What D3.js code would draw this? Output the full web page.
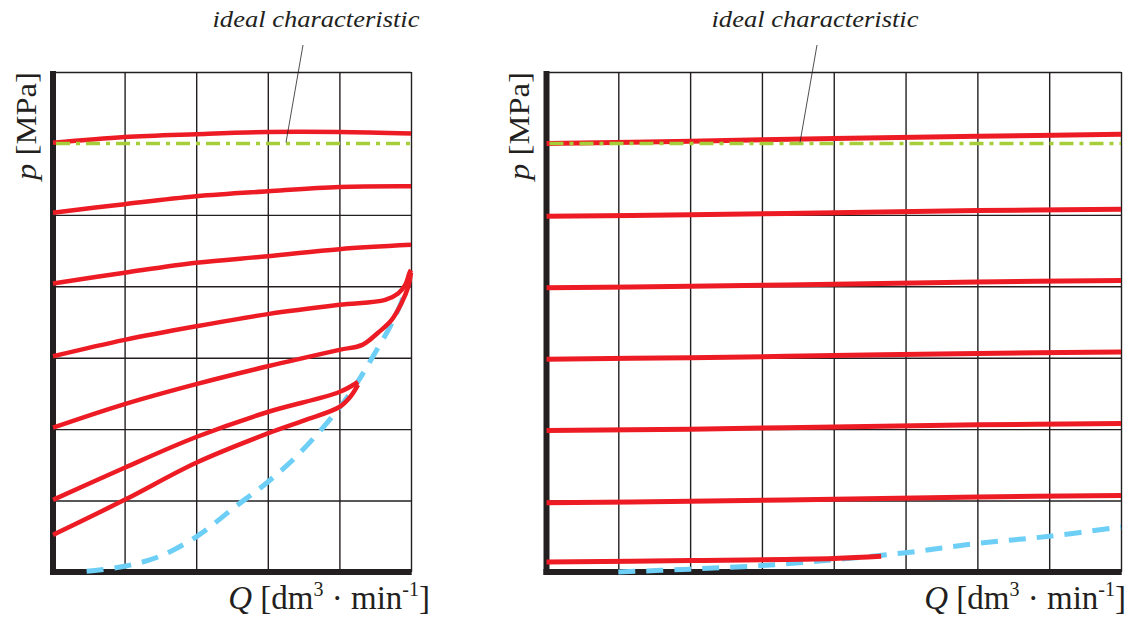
<!DOCTYPE html>
<html><head><meta charset="utf-8">
<script src="https://cdn.jsdelivr.net/npm/d3@7"></script>
<style>
html,body{margin:0;padding:0;background:#fff;}
svg{display:block;}
text{fill:#231f20;}
</style></head>
<body>
<svg id="chart" width="1135" height="623"></svg>
<script>
// ---- data (grid units: Q in columns, p in rows) ----
const leftQTicks = [0,1,2,3,4,5];
const rightQTicks = [0,1,2,3,4,5,6,7,8];
const pTicks = [0,1,2,3,4,5,7];
const idealP = 6.0;

// left panel: red characteristics [Q, p]
const leftCurve1 = [[0,6.01],[1,6.09],[2,6.13],[3,6.16],[4,6.16],[5,6.14]];
const leftCurve2 = [[0,5.03],[1,5.15],[2,5.26],[3,5.33],[4,5.39],[5,5.40]];
const leftCurve3 = [[0,4.04],[1,4.19],[2,4.33],[3,4.42],[4,4.52],[5,4.58]];
const leftCurve4 = [[0,3.02],[1,3.25],[2,3.44],[3,3.61],[4,3.74],[4.64,3.81],[4.82,3.90],[4.92,4.02],[4.98,4.19],[5.0,4.23]];
const leftCurve5 = [[0,2.02],[1,2.35],[2,2.63],[3,2.88],[4,3.11],[4.32,3.18],[4.54,3.35],[4.73,3.53],[4.87,3.77],[4.96,3.99],[5.0,4.19]];
const leftCurve6 = [[0,1.01],[1,1.46],[2,1.89],[3,2.24],[4,2.52],[4.26,2.66]];
const leftCurve7 = [[0,0.52],[1,1.01],[2,1.53],[3,1.94],[3.5,2.12],[4,2.31],[4.15,2.45],[4.26,2.62]];
// left panel: blue dashed limit curve
const leftLimit = [[0.47,0.01],[1,0.08],[1.49,0.22],[2.01,0.50],[2.54,0.91],[3,1.26],[3.45,1.67],[4.01,2.31],[4.26,2.67],[4.47,3.02],[4.71,3.44],[4.85,3.74],[4.97,4.06]];

// right panel: red characteristics
const rightCurve1 = [[0,6.00],[2,6.03],[4,6.07],[6,6.10],[8,6.13]];
const rightCurve2 = [[0,4.98],[2,5.00],[4,5.03],[6,5.06],[8,5.08]];
const rightCurve3 = [[0,3.98],[2,4.00],[4,4.03],[6,4.06],[8,4.08]];
const rightCurve4 = [[0,2.98],[2,3.00],[4,3.03],[6,3.06],[8,3.08]];
const rightCurve5 = [[0,1.98],[2,2.00],[4,2.03],[6,2.06],[8,2.08]];
const rightCurve6 = [[0,0.97],[2,0.99],[4,1.02],[6,1.05],[8,1.07]];
const rightCurve7 = [[0,0.14],[2,0.16],[4,0.19],[4.66,0.22]];
// right panel: blue dashed limit curve
const rightLimit = [[1.0,0.0],[2.0,0.04],[3.0,0.09],[4.0,0.17],[5.0,0.27],[6.0,0.40],[7.0,0.50],[8.0,0.63]];

const annotationText = "ideal characteristic";

// ---- drawing ----
const FONT = '"Liberation Serif","Times New Roman",Times,serif';
const svg = d3.select("#chart");
const INK = "#231f20", RED = "#ed1c24", BLUE = "#6dcff6", GREEN = "#a6ce39";
const yTop = 72, yBot = 572;

function panel(cfg){
  const g = svg.append("g");
  const x = d3.scaleLinear().domain([0, cfg.qMax]).range([cfg.x0, cfg.x1]);
  const y = d3.scaleLinear().domain([0, 7]).range([yBot, yTop]);
  const h = yBot - yTop, w = cfg.x1 - cfg.x0;

  // grid via axes
  const gx = g.append("g").attr("transform", `translate(0,${yBot})`)
    .call(d3.axisBottom(x).tickValues(cfg.qTicks).tickFormat("").tickSizeInner(-h).tickSizeOuter(0));
  const gy = g.append("g").attr("transform", `translate(${cfg.x0},0)`)
    .call(d3.axisLeft(y).tickValues(pTicks).tickFormat("").tickSizeInner(-w).tickSizeOuter(0));
  [gx, gy].forEach(a => {
    a.select(".domain").remove();
    a.selectAll(".tick line").attr("stroke", INK).attr("stroke-width", 1.4);
  });
  // thick axes
  g.append("line").attr("x1", x(0)).attr("x2", x(0)).attr("y1", y(7)-1).attr("y2", y(0)+3)
    .attr("stroke", INK).attr("stroke-width", 6);
  g.append("line").attr("x1", x(0)-3).attr("x2", x(cfg.qMax)+0.7).attr("y1", y(0)).attr("y2", y(0))
    .attr("stroke", INK).attr("stroke-width", 6);

  const line = d3.line().x(d => x(d[0])).y(d => y(d[1])).curve(d3.curveCatmullRom.alpha(0.5));

  g.append("path").datum(cfg.limit).attr("d", line).attr("fill", "none")
    .attr("stroke", BLUE).attr("stroke-width", 5).attr("stroke-dasharray", "17,11");

  cfg.curves.forEach(c => {
    g.append("path").datum(c).attr("d", line).attr("fill", "none")
      .attr("stroke", RED).attr("stroke-width", cfg.redW).attr("stroke-linecap", "butt");
  });

  // ideal characteristic
  g.append("line").attr("x1", x(0)+3).attr("x2", x(cfg.qMax)).attr("y1", y(idealP)).attr("y2", y(idealP))
    .attr("stroke", GREEN).attr("stroke-width", 3.5).attr("stroke-dasharray", "14,6,4,6");

  // annotation
  g.append("line").attr("x1", cfg.lead[0]).attr("y1", 45).attr("x2", cfg.lead[1]).attr("y2", y(idealP)-1)
    .attr("stroke", INK).attr("stroke-width", 0.8);
  g.append("text").attr("x", cfg.textX).attr("y", 27).attr("text-anchor", "middle")
    .style("font-family", FONT)
    .attr("font-style", "italic").attr("font-size", 24)
    .attr("textLength", 207).attr("lengthAdjust", "spacingAndGlyphs")
    .text(annotationText);

  // y label
  const yl = g.append("text").attr("transform", `translate(${cfg.pLabelX},${126}) rotate(-90)`)
    .style("font-family", FONT)
    .attr("text-anchor", "middle").attr("font-size", 30)
    .attr("textLength", 108).attr("lengthAdjust", "spacingAndGlyphs");
  yl.append("tspan").attr("font-style", "italic").text("p");
  yl.append("tspan").text(" [MPa]");

  // x label
  const xl = g.append("text").attr("x", cfg.qLabelX).attr("y", 609).attr("text-anchor", "end")
    .style("font-family", FONT).attr("font-size", 33);
  xl.append("tspan").attr("font-style", "italic").text("Q");
  xl.append("tspan").text(" [dm");
  xl.append("tspan").attr("font-size", 20).attr("dy", -13).text("3");
  xl.append("tspan").attr("dy", 13).text(" · min");
  xl.append("tspan").attr("font-size", 20).attr("dy", -13).text("-1");
  xl.append("tspan").attr("dy", 13).text("]");
}

panel({x0: 53, x1: 411, qMax: 5, qTicks: leftQTicks, redW: 4.5,
  curves: [leftCurve1, leftCurve2, leftCurve3, leftCurve4, leftCurve5, leftCurve6, leftCurve7],
  limit: leftLimit, lead: [303, 286], textX: 316, pLabelX: 36, qLabelX: 430});
panel({x0: 546.5, x1: 1121, qMax: 8, qTicks: rightQTicks, redW: 5,
  curves: [rightCurve1, rightCurve2, rightCurve3, rightCurve4, rightCurve5, rightCurve6, rightCurve7],
  limit: rightLimit, lead: [817, 800], textX: 815, pLabelX: 529, qLabelX: 1126});
</script>
</body></html>
